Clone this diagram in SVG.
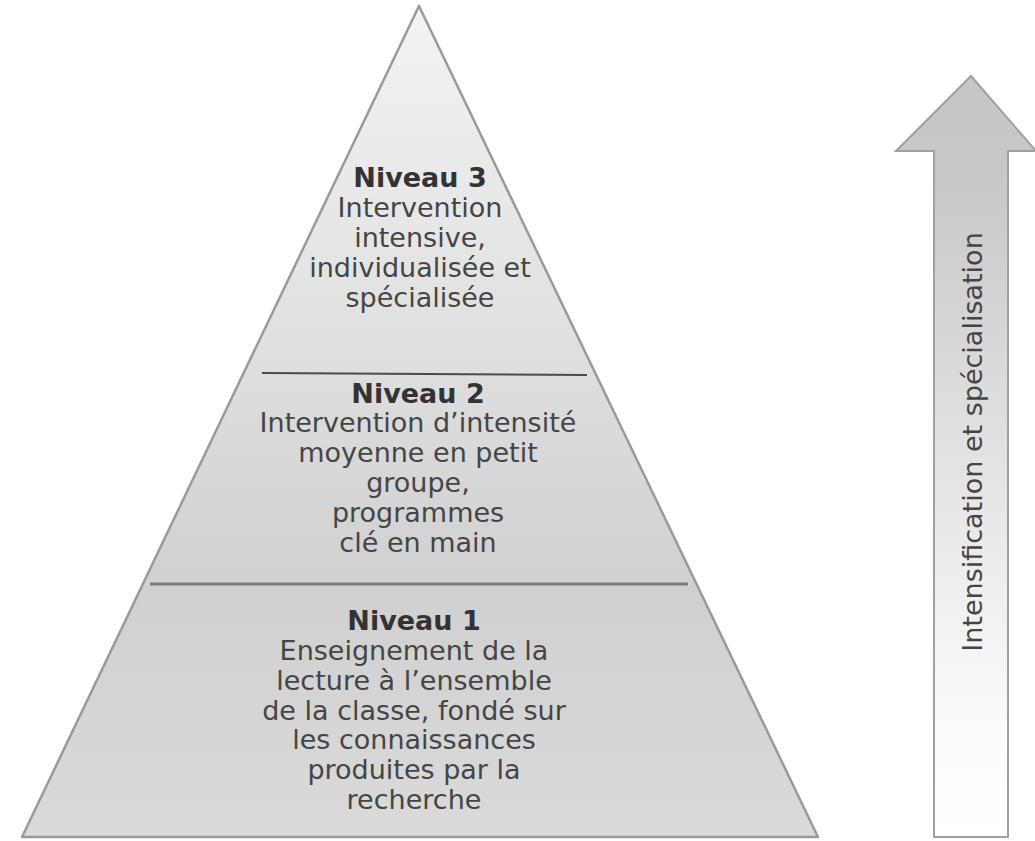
<svg xmlns="http://www.w3.org/2000/svg" width="1035" height="841" viewBox="0 0 1035 841">
  <defs>
    <linearGradient id="pyrGrad" x1="0" y1="6" x2="0" y2="838" gradientUnits="userSpaceOnUse">
      <stop offset="0" stop-color="#f3f3f3"/>
      <stop offset="0.42" stop-color="#dfdfdf"/>
      <stop offset="0.7" stop-color="#d0d0d0"/>
      <stop offset="1" stop-color="#dadada"/>
    </linearGradient>
    <linearGradient id="arrowGrad" x1="0" y1="76" x2="0" y2="838" gradientUnits="userSpaceOnUse">
      <stop offset="0" stop-color="#c6c6c6"/>
      <stop offset="0.15" stop-color="#c9c9c9"/>
      <stop offset="0.55" stop-color="#e6e6e6"/>
      <stop offset="0.85" stop-color="#fbfbfb"/>
      <stop offset="1" stop-color="#ffffff"/>
    </linearGradient>
  </defs>
  <style>
    .txt { font-family: "DejaVu Sans", "Liberation Sans", sans-serif; font-size: 27px; fill: #454545; text-anchor: middle; }
    .head { font-weight: bold; fill: #333333; }
    .divider { stroke-linecap: butt; fill: none; }
  </style>

  <g id="pyramid">
    <polygon points="419,6 22,837 818,837" fill="url(#pyrGrad)" stroke="#9a9a9a" stroke-width="2.5" stroke-linejoin="round"/>
  </g>

  <g id="connectors">
    <line class="divider" x1="262" y1="373" x2="587" y2="375" stroke="#4a4a4a" stroke-width="2"/>
    <line class="divider" x1="150" y1="584" x2="688" y2="584" stroke="#7c7c7c" stroke-width="3"/>
  </g>

  <g id="level3">
    <text class="txt head" x="420" y="187">Niveau 3</text>
    <text class="txt" x="420" y="217">Intervention</text>
    <text class="txt" x="420" y="247">intensive,</text>
    <text class="txt" x="420" y="277">individualisée et</text>
    <text class="txt" x="420" y="307">spécialisée</text>
  </g>

  <g id="level2">
    <text class="txt head" x="418" y="403">Niveau 2</text>
    <text class="txt" x="418" y="432">Intervention d’intensité</text>
    <text class="txt" x="418" y="462">moyenne en petit</text>
    <text class="txt" x="418" y="492">groupe,</text>
    <text class="txt" x="418" y="522">programmes</text>
    <text class="txt" x="418" y="552">clé en main</text>
  </g>

  <g id="level1">
    <text class="txt head" x="414" y="630">Niveau 1</text>
    <text class="txt" x="414" y="660">Enseignement de la</text>
    <text class="txt" x="414" y="690">lecture à l’ensemble</text>
    <text class="txt" x="414" y="720">de la classe, fondé sur</text>
    <text class="txt" x="414" y="749">les connaissances</text>
    <text class="txt" x="414" y="779">produites par la</text>
    <text class="txt" x="414" y="809">recherche</text>
  </g>

  <g id="arrow">
    <polygon points="971,76 1036,151 1008,151 1008,837 934,837 934,151 896,151" fill="url(#arrowGrad)" stroke="#a0a0a0" stroke-width="2" stroke-linejoin="miter"/>
    <text class="txt" transform="translate(982,442) rotate(-90)" x="0" y="0" style="font-size:27px">Intensification et spécialisation</text>
  </g>
</svg>
